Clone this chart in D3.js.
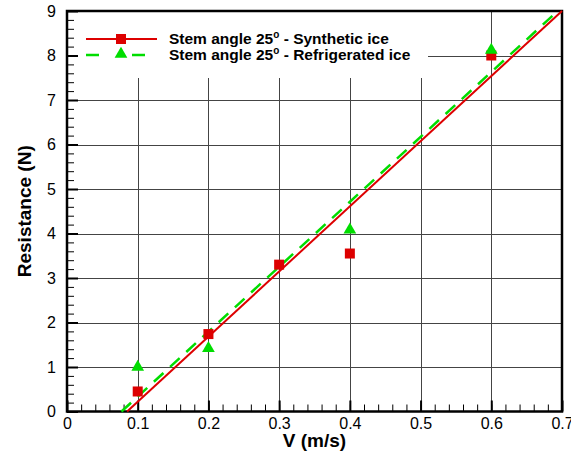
<!DOCTYPE html>
<style>
body { margin: 0; background: #fff; }
svg { display: block; font-family: "Liberation Sans", Arial, sans-serif; }
.axis .domain { display: none; }
.grid line { stroke: #444; stroke-width: 1; }
</style>
<svg width="571" height="452"></svg>
<script src="https://d3js.org/d3.v7.min.js"></script>
<script>

var xTicks = [0, 0.1, 0.2, 0.3, 0.4, 0.5, 0.6, 0.7];
var yTicks = [0, 1, 2, 3, 4, 5, 6, 7, 8, 9];

// synthetic ice (red squares)
var synthSpeed = [0.1, 0.2, 0.3, 0.4, 0.6];
var synthRes = [0.45, 1.74, 3.3, 3.55, 8.0];
var synthFit = [[0.085, 0], [0.7, 9]];

// refrigerated ice (green triangles)
var refSpeed = [0.1, 0.2, 0.4, 0.6];
var refRes = [1.0, 1.42, 4.08, 8.12];
var refFit = [[0.077, 0], [0.694, 9]];

var seriesNames = ["Synthetic ice", "Refrigerated ice"];

var svg = d3.select("svg"),
    plotL = 67, plotR = 562, plotT = 11, plotB = 411.5;

var x = d3.scaleLinear().domain([0, 0.7]).range([plotL, plotR]);
var y = d3.scaleLinear().domain([0, 9]).range([plotB, plotT]);

var xMinor = d3.range(0, 36).map(function(i) { return i * 0.02; }).filter(function(v) { return v < 0.7; });
var yMinor = d3.range(0, 46).map(function(i) { return i * 0.2; }).filter(function(v) { return v < 9; });

// grid
var grid = svg.append("g").attr("class", "grid");
grid.selectAll(".gx").data(xTicks.slice(1, -1)).enter().append("line")
    .attr("x1", function(d) { return Math.round(x(d)) + 0.5; })
    .attr("x2", function(d) { return Math.round(x(d)) + 0.5; })
    .attr("y1", plotT).attr("y2", plotB);
grid.selectAll(".gy").data(yTicks.slice(1, -1)).enter().append("line")
    .attr("y1", function(d) { return Math.round(y(d)) + 0.5; })
    .attr("y2", function(d) { return Math.round(y(d)) + 0.5; })
    .attr("x1", plotL).attr("x2", plotR);

// legend background hides the grid
svg.append("rect")
    .attr("x", plotL + 1).attr("y", plotT + 1)
    .attr("width", 360).attr("height", 66)
    .attr("fill", "#fff");

// inside ticks
svg.append("g").attr("class", "axis")
    .attr("transform", "translate(0," + plotB + ")")
    .call(d3.axisBottom(x).tickValues(xMinor).tickSize(-7).tickFormat(""))
    .selectAll("line").attr("stroke", "#000");
svg.append("g").attr("class", "axis")
    .attr("transform", "translate(0," + plotB + ")")
    .call(d3.axisBottom(x).tickValues(xTicks).tickSize(-11).tickFormat(""))
    .selectAll("line").attr("stroke", "#000").attr("stroke-width", 2);
svg.append("g").attr("class", "axis")
    .attr("transform", "translate(" + plotL + ",0)")
    .call(d3.axisLeft(y).tickValues(yMinor).tickSize(-7).tickFormat(""))
    .selectAll("line").attr("stroke", "#000");
svg.append("g").attr("class", "axis")
    .attr("transform", "translate(" + plotL + ",0)")
    .call(d3.axisLeft(y).tickValues(yTicks).tickSize(-11).tickFormat(""))
    .selectAll("line").attr("stroke", "#000").attr("stroke-width", 2);

// tick labels
svg.append("g").attr("class", "axis")
    .attr("transform", "translate(0," + plotB + ")")
    .call(d3.axisBottom(x).tickValues(xTicks).tickSize(0).tickPadding(6)
      .tickFormat(function(d) { return d === 0 ? "0" : d3.format(".1f")(d); }))
    .selectAll("text").attr("font-size", 16).attr("font-family", "Liberation Sans, Arial, sans-serif").attr("fill", "#000");
svg.append("g").attr("class", "axis")
    .attr("transform", "translate(" + plotL + ",0)")
    .call(d3.axisLeft(y).tickValues(yTicks).tickSize(0).tickPadding(11).tickFormat(d3.format("d")))
    .selectAll("text").attr("font-size", 16).attr("font-family", "Liberation Sans, Arial, sans-serif").attr("fill", "#000");

// frame
svg.append("rect")
    .attr("x", plotL).attr("y", plotT)
    .attr("width", plotR - plotL).attr("height", plotB - plotT)
    .attr("fill", "none").attr("stroke", "#000").attr("stroke-width", 2.5);

// axis titles
svg.append("text")
    .attr("x", (plotL + plotR) / 2).attr("y", 447)
    .attr("text-anchor", "middle")
    .attr("font-size", 19).attr("font-weight", "bold")
    .text("V (m/s)");
svg.append("text")
    .attr("transform", "translate(31," + (plotT + plotB) / 2 + ") rotate(-90)")
    .attr("text-anchor", "middle")
    .attr("font-size", 19).attr("font-weight", "bold")
    .text("Resistance (N)");

// fit lines
var line = d3.line().x(function(d) { return x(d[0]); }).y(function(d) { return y(d[1]); });
var plot = svg.append("g");
plot.append("path").datum(refFit).attr("d", line)
    .attr("fill", "none").attr("stroke", "#00dd00").attr("stroke-width", 2.5)
    .attr("stroke-dasharray", "13,9");
plot.append("path").datum(synthFit).attr("d", line)
    .attr("fill", "none").attr("stroke", "#dd0000").attr("stroke-width", 2);

var tri = d3.symbol().type(d3.symbolTriangle).size(70);

plot.selectAll(".sq").data(synthSpeed).enter().append("rect")
    .attr("x", function(d) { return x(d) - 5; })
    .attr("y", function(d, i) { return y(synthRes[i]) - 5; })
    .attr("width", 10).attr("height", 10)
    .attr("fill", "#dd0000");
plot.selectAll(".tr").data(refSpeed).enter().append("path")
    .attr("d", tri)
    .attr("transform", function(d, i) { return "translate(" + x(d) + "," + y(refRes[i]) + ")"; })
    .attr("fill", "#00dd00");

// legend
var legend = svg.append("g").attr("font-size", 15.5).attr("font-weight", "bold");
var rows = legend.selectAll("g").data(seriesNames).enter().append("g")
    .attr("transform", function(d, i) { return "translate(0," + (39 + i * 16) + ")"; });
rows.append("line")
    .attr("x1", 86).attr("x2", 157)
    .attr("stroke", function(d, i) { return i ? "#00dd00" : "#dd0000"; })
    .attr("stroke-width", function(d, i) { return i ? 2.5 : 2; })
    .attr("stroke-dasharray", function(d, i) { return i ? "13,13,0,20,13" : null; });
rows.filter(function(d, i) { return i === 0; }).append("rect")
    .attr("x", 116).attr("y", -5).attr("width", 10).attr("height", 10).attr("fill", "#dd0000");
rows.filter(function(d, i) { return i === 1; }).append("path")
    .attr("d", tri).attr("transform", "translate(121,-1)").attr("fill", "#00dd00");
var txt = rows.append("text").attr("x", 169).attr("y", 5);
txt.append("tspan").text("Stem angle 25");
txt.append("tspan").attr("font-size", 10).attr("dy", -6).text("o");
txt.append("tspan").attr("dy", 6).text(function(d) { return " - " + d; });

</script>
